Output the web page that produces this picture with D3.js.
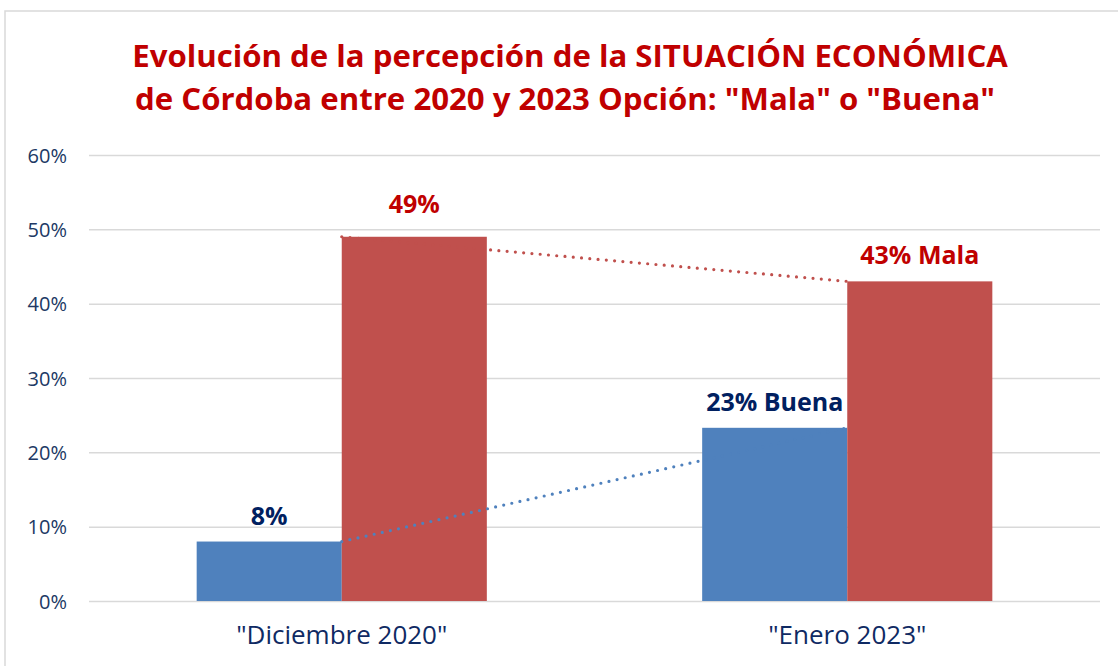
<!DOCTYPE html>
<html>
<head>
<meta charset="utf-8">
<script src="https://cdn.jsdelivr.net/npm/d3@7"></script>
<style>
  html, body { margin: 0; padding: 0; background: #ffffff; }
  svg { display: block; }
</style>
</head>
<body>
<svg id="chart" width="1118" height="666"></svg>
<script>
// ---- data ----
const titleLines = ["Evolución de la percepción de la SITUACIÓN ECONÓMICA",
                    "de Córdoba entre 2020 y 2023 Opción: \"Mala\" o \"Buena\""];
const categories = ["\"Diciembre 2020\"", "\"Enero 2023\""];
const seriesNames = ["Buena", "Mala"];
const buenaValues = [0.08, 0.233];
const malaValues = [0.49, 0.43];
const buenaLabels = ["8%", "23% Buena"];
const malaLabels = ["49%", "43% Mala"];
const yTicks = [0, 0.1, 0.2, 0.3, 0.4, 0.5, 0.6];

// ---- styles ----
const colors = { Buena: "#4F81BD", Mala: "#C0504D" };
const labelColors = { Buena: "#002060", Mala: "#C00000" };
const font = "'Open Sans', 'Noto Sans', sans-serif";

const svg = d3.select("#chart");

// frame
svg.append("rect").attr("x", 5).attr("y", 11).attr("width", 1130).attr("height", 700)
  .attr("fill", "none").attr("stroke", "#D9D9D9").attr("stroke-width", 1.5);

// scales
const x = d3.scaleBand().domain(categories).range([89, 1100]).paddingInner(0.426).paddingOuter(0.213);
const xs = d3.scaleBand().domain(seriesNames).range([0, x.bandwidth()]);
const y = d3.scaleLinear().domain([0, 0.6]).range([601, 155]);

// gridlines
const yAxis = d3.axisLeft(y).tickValues(yTicks).tickFormat(d3.format(".0%"))
  .tickSize(-(1100 - 89)).tickPadding(22);
const gy = svg.append("g").attr("transform", "translate(89,0)").call(yAxis);
gy.select(".domain").remove();
gy.selectAll(".tick line").attr("stroke", "#D9D9D9").attr("stroke-width", 1.5);
gy.selectAll(".tick text").attr("fill", "#203864").attr("font-family", font)
  .attr("font-size", 20).attr("dy", "0.36em");

// x axis labels
const xAxis = d3.axisBottom(x).tickSize(0).tickPadding(25);
const gx = svg.append("g").attr("transform", "translate(0,601)").call(xAxis);
gx.select(".domain").remove();
gx.selectAll(".tick text").attr("fill", "#0F2A63").attr("font-family", font)
  .attr("font-size", 26);

// bars
const rows = [];
categories.forEach((c, i) => {
  rows.push({ cat: c, s: "Buena", v: buenaValues[i], label: buenaLabels[i] });
  rows.push({ cat: c, s: "Mala", v: malaValues[i], label: malaLabels[i] });
});
svg.append("g").selectAll("rect").data(rows).join("rect")
  .attr("x", d => x(d.cat) + xs(d.s))
  .attr("y", d => y(d.v))
  .attr("width", xs.bandwidth())
  .attr("height", d => y(0) - y(d.v))
  .attr("fill", d => colors[d.s]);

// dotted trend lines through category centers (drawn over bars)
const cx = d => x(d) + x.bandwidth() / 2;
const lineGen = d3.line().x(d => cx(d.cat)).y(d => y(d.v));
[["Buena", buenaValues], ["Mala", malaValues]].forEach(([name, vals]) => {
  svg.append("path")
    .datum(categories.map((c, i) => ({ cat: c, v: vals[i] })))
    .attr("d", lineGen)
    .attr("fill", "none")
    .attr("stroke", colors[name])
    .attr("stroke-width", 3.2)
    .attr("stroke-linecap", "round")
    .attr("stroke-dasharray", "0 8.3");
});

// value labels
const labelGap = { "49%": 24 };
svg.append("g").selectAll("text").data(rows).join("text")
  .attr("x", d => x(d.cat) + xs(d.s) + xs.bandwidth() / 2)
  .attr("y", d => y(d.v) - (labelGap[d.label] || 17))
  .attr("text-anchor", "middle")
  .attr("font-family", font).attr("font-weight", 700).attr("font-size", 25)
  .attr("fill", d => labelColors[d.s])
  .text(d => d.label);

// title
const title = svg.append("g").attr("font-family", font).attr("font-weight", 700)
  .attr("fill", "#C00000").attr("text-anchor", "middle");
const t1 = title.append("text").attr("x", 570).attr("y", 67).attr("font-size", 30).text(titleLines[0]);
// fit first line to ~876px
const w = t1.node().getComputedTextLength();
const fs = 30 * 876 / w;
t1.attr("font-size", fs);
title.append("text").attr("x", 565).attr("y", 110).attr("font-size", fs).text(titleLines[1]);
</script>
</body>
</html>
